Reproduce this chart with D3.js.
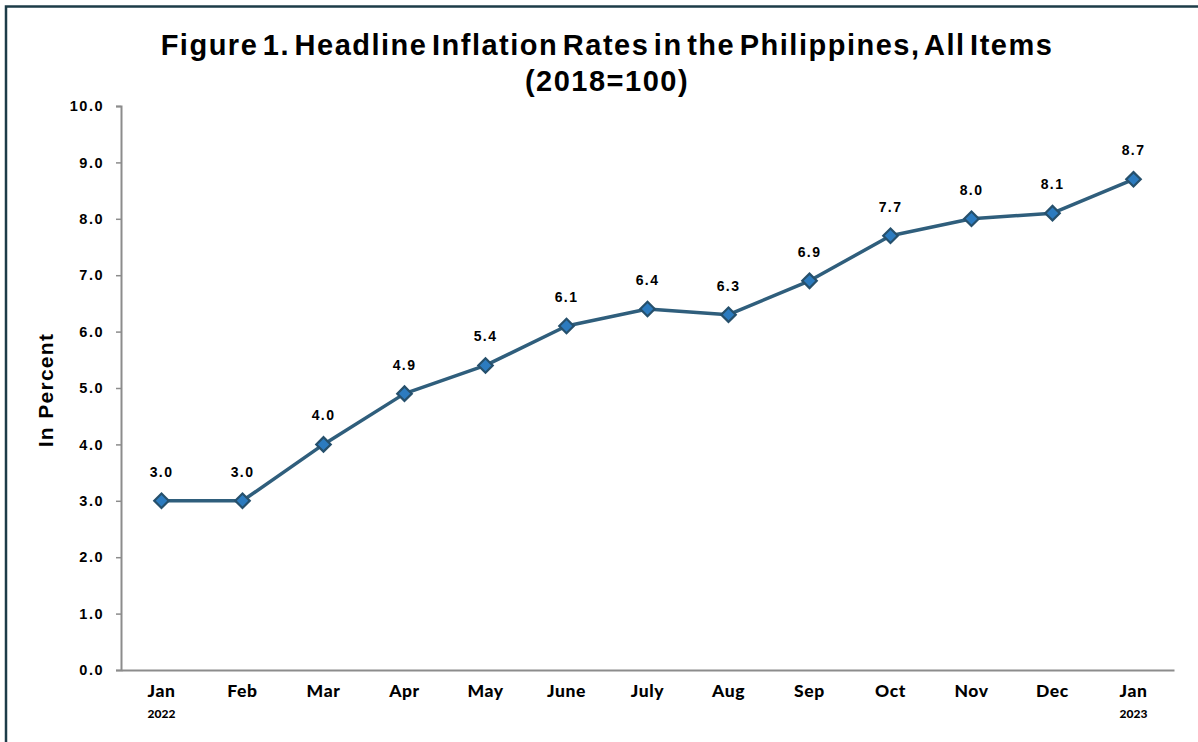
<!DOCTYPE html>
<html><head><meta charset="utf-8">
<script src="https://cdn.jsdelivr.net/npm/d3@7"></script>
<style>body{margin:0;background:#fff}svg{display:block}</style>
</head><body><svg id="c" width="1198" height="742"></svg>
<script>
const months = ["Jan","Feb","Mar","Apr","May","June","July","Aug","Sep","Oct","Nov","Dec","Jan"];
const years = ["2022","","","","","","","","","","","","2023"];
const inflation = [3.0,3.0,4.0,4.9,5.4,6.1,6.4,6.3,6.9,7.7,8.0,8.1,8.7];
const yTicks = [0,1,2,3,4,5,6,7,8,9,10];
const titleLines = ["Figure 1. Headline Inflation Rates in the Philippines, All Items","(2018=100)"];
const yLabel = "In Percent";

const svg = d3.select("#c");
svg.append("rect").attr("x",6).attr("y",6.5).attr("width",1200).attr("height",760)
  .attr("fill","none").attr("stroke","#1d3c48").attr("stroke-width",2.5);

const idx = d3.range(months.length);
const x = d3.scaleBand().domain(idx).range([121,1174]);
const y = d3.scaleLinear().domain([0,10]).range([670,106]);
const cx = i => x(i)+x.bandwidth()/2;

svg.append("g").selectAll("text").data(titleLines).join("text")
  .attr("x",607).attr("y",(d,i)=>55+i*36).attr("text-anchor","middle")
  .attr("font-family","Liberation Sans, Arial, sans-serif").attr("font-weight","bold")
  .attr("font-size",29).attr("letter-spacing",1.5).attr("word-spacing",-5)
  .attr("fill","#000").text(d=>d);

const ya = svg.append("g").attr("transform","translate(121,0)")
  .call(d3.axisLeft(y).tickValues(yTicks).tickFormat(d3.format(".1f")).tickSize(5).tickPadding(12));
ya.select(".domain").attr("stroke","#8c8c8c").attr("stroke-width",2);
ya.selectAll(".tick line").attr("stroke","#8c8c8c").attr("stroke-width",1.5);
ya.selectAll(".tick text").attr("font-family","Liberation Sans, Arial, sans-serif")
  .attr("font-weight","bold").attr("font-size",14.5).attr("letter-spacing",1.5).attr("fill","#000");

const xa = svg.append("g").attr("transform","translate(0,670)")
  .call(d3.axisBottom(x).tickSize(0).tickFormat(()=>""));
xa.select(".domain").attr("stroke","#8c8c8c").attr("stroke-width",2);
svg.append("g").selectAll("text.m").data(idx).join("text")
  .attr("x",i=>cx(i)).attr("y",697).attr("text-anchor","middle")
  .attr("font-family","Lato, DejaVu Sans, sans-serif").attr("font-weight","900")
  .attr("font-size",17.5).attr("letter-spacing",0.6).attr("fill","#000").text(i=>months[i]);
svg.append("g").selectAll("text.y").data(idx.filter(i=>years[i])).join("text")
  .attr("x",i=>cx(i)).attr("y",718).attr("text-anchor","middle")
  .attr("font-family","Lato, DejaVu Sans, sans-serif").attr("font-weight","900")
  .attr("font-size",12).attr("fill","#000").text(i=>years[i]);

svg.append("text").attr("transform","translate(53,390) rotate(-90)")
  .attr("text-anchor","middle").attr("font-family","Liberation Sans, Arial, sans-serif")
  .attr("font-weight","bold").attr("font-size",21).attr("letter-spacing",1.3)
  .attr("fill","#000").text(yLabel);

svg.append("path").datum(idx)
  .attr("d",d3.line().x(i=>cx(i)).y(i=>y(inflation[i])))
  .attr("fill","none").attr("stroke","#2f5e7c").attr("stroke-width",3.5).attr("stroke-linejoin","round");

svg.append("g").selectAll("path").data(idx).join("path")
  .attr("d",d3.symbol(d3.symbolSquare,105))
  .attr("transform",i=>`translate(${cx(i)},${y(inflation[i])}) rotate(45)`)
  .attr("fill","#2c7bbf").attr("stroke","#26506c").attr("stroke-width",2.2);

svg.append("g").selectAll("text").data(idx).join("text")
  .attr("x",i=>cx(i)).attr("y",i=>y(inflation[i])-24).attr("text-anchor","middle")
  .attr("font-family","Liberation Sans, Arial, sans-serif").attr("font-weight","bold")
  .attr("font-size",14).attr("letter-spacing",1.4).attr("fill","#000").text(i=>inflation[i].toFixed(1));
</script></body></html>
